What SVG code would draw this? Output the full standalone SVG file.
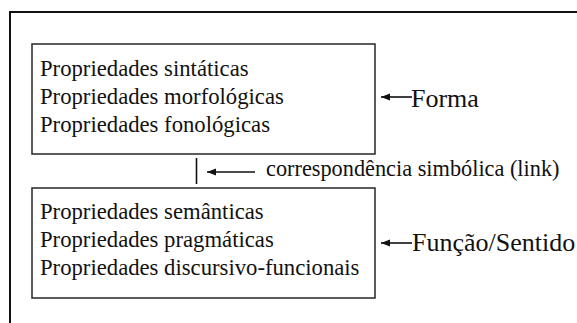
<svg xmlns="http://www.w3.org/2000/svg" width="577" height="323" viewBox="0 0 577 323">
<defs>
<style>
.t{font-family:"Liberation Serif",Tinos,"DejaVu Serif",serif;fill:#111}
.box{fill:#fff;stroke:#333;stroke-width:1.6}
.frame{fill:none;stroke:#111;stroke-width:2}
.conn{stroke:#111;stroke-width:1.6;fill:none}
</style>
<marker id="ah" markerUnits="userSpaceOnUse" markerWidth="10" markerHeight="8" refX="9" refY="4" orient="auto">
<path d="M0,0.5 L9,4 L0,7.5 Z" fill="#111"/>
</marker>
</defs>
<rect width="577" height="323" fill="#fff"/>
<path class="frame" d="M10,323 L10,12 L577,12"/>
<g id="forma-box">
<rect class="box" x="32" y="44" width="343" height="110"/>
<text class="t" font-family="Liberation Serif, serif" font-size="22.7" x="40" y="76">Propriedades sintáticas</text>
<text class="t" font-family="Liberation Serif, serif" font-size="22.7" x="40" y="104">Propriedades morfológicas</text>
<text class="t" font-family="Liberation Serif, serif" font-size="22.7" x="40" y="132">Propriedades fonológicas</text>
</g>
<g id="funcao-box">
<rect class="box" x="32" y="188" width="343" height="110"/>
<text class="t" font-size="22.7" x="40" y="219">Propriedades semânticas</text>
<text class="t" font-size="22.7" x="40" y="247">Propriedades pragmáticas</text>
<text class="t" font-size="22.7" x="40" y="275">Propriedades discursivo-funcionais</text>
</g>
<g id="forma-label">
<text class="t" font-size="26" x="411" y="107">Forma</text>
</g>
<g id="funcao-label">
<text class="t" font-size="26" x="412" y="251">Função/Sentido</text>
</g>
<g id="link-label">
<text class="t" font-size="22.3" x="266" y="176">correspondência simbólica (link)</text>
</g>
<g id="connectors">
<line class="conn" x1="196.5" y1="158" x2="196.5" y2="184" stroke-width="2"/>
<line class="conn" x1="255" y1="172" x2="207" y2="172" marker-end="url(#ah)"/>
<line class="conn" x1="412" y1="97" x2="381" y2="97" marker-end="url(#ah)"/>
<line class="conn" x1="412" y1="243" x2="381" y2="243" marker-end="url(#ah)"/>
</g>
</svg>
